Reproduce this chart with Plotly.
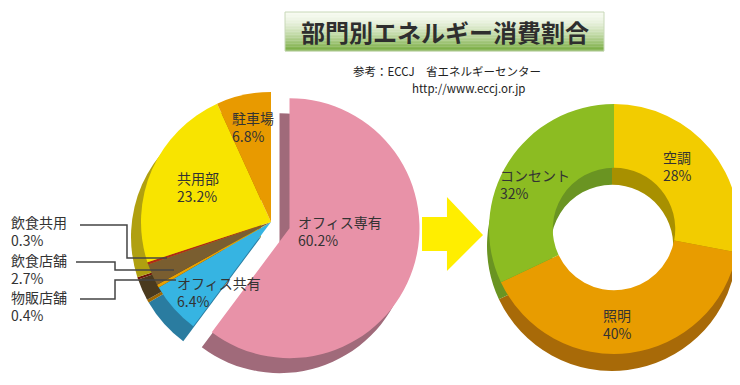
import plotly.graph_objects as go

# ---------------- data ----------------
left_labels = ["オフィス専有", "オフィス共有", "物販店舗", "飲食店舗", "飲食共用", "共用部", "駐車場"]
left_values = [60.2, 6.4, 0.4, 2.7, 0.3, 23.2, 6.8]
right_labels = ["空調", "照明", "コンセント"]
right_values = [28, 40, 32]

title_text = "部門別エネルギー消費割合"
source_line1 = "参考：ECCJ　省エネルギーセンター"
source_line2 = "http://www.eccj.or.jp"

# ---------------- styles ----------------
W, H = 740, 385
FONT = "Noto Sans CJK JP"
TXT = "#333333"

left_face = ["#E892A8", "#36B4E2", "#E8A000", "#7A5E30", "#B02818", "#F8E400", "#E89A00"]
left_side = ["#A06A7A", "#2A7CA0", "#A06800", "#4A3A1E", "#701808", "#B0A010", "#A86C00"]
left_pull = [0.15, 0, 0, 0, 0, 0, 0]
right_face = ["#F2CC00", "#E89C00", "#8CBC22"]
right_side = ["#A89000", "#A86A08", "#6A9422"]


def px(x):
    return x / W


def py(y):
    return 1 - y / H


def dom(cx, cy, half):
    return dict(x=[px(cx - half), px(cx + half)], y=[py(cy + half), py(cy - half)])


fig = go.Figure()

# left pie: shadow (depth) then face
L_CX, L_CY, L_R = 263, 214, 130
L_HALF = L_R * 1.15
fig.add_trace(go.Pie(labels=left_labels, values=left_values, sort=False, direction="clockwise",
                     rotation=0, pull=left_pull, hole=0, textinfo="none", hoverinfo="skip",
                     marker=dict(colors=left_side, line=dict(width=0)),
                     domain=dom(L_CX - 10, L_CY + 15, L_HALF), showlegend=False))
fig.add_trace(go.Pie(labels=left_labels, values=left_values, sort=False, direction="clockwise",
                     rotation=0, pull=left_pull, hole=0, textinfo="none", hoverinfo="skip",
                     marker=dict(colors=left_face, line=dict(width=0)),
                     domain=dom(L_CX, L_CY, L_HALF), showlegend=False))

# right donut: shadow then face
R_CX, R_CY, R_R = 606, 221, 125
fig.add_trace(go.Pie(labels=right_labels, values=right_values, sort=False, direction="clockwise",
                     rotation=0, hole=0.49, textinfo="none", hoverinfo="skip",
                     marker=dict(colors=right_side, line=dict(width=0)),
                     domain=dom(R_CX - 2, R_CY + 17, R_R), showlegend=False))
fig.add_trace(go.Pie(labels=right_labels, values=right_values, sort=False, direction="clockwise",
                     rotation=0, hole=0.49, textinfo="none", hoverinfo="skip",
                     marker=dict(colors=right_face, line=dict(width=0)),
                     domain=dom(R_CX, R_CY, R_R), showlegend=False))

shapes = []
# title box gradient (stripes)
bx0, bx1, by0, by1 = 277, 596, 4, 43
n = 26
top_c = (246, 250, 240)
bot_c = (120, 172, 64)
for i in range(n):
    t = i / (n - 1)
    t2 = t ** 1.6
    c = tuple(int(top_c[k] + (bot_c[k] - top_c[k]) * t2) for k in range(3))
    y0 = by0 + (by1 - by0) * i / n
    y1 = by0 + (by1 - by0) * (i + 1) / n
    shapes.append(dict(type="rect", xref="paper", yref="paper", x0=px(bx0), x1=px(bx1),
                       y0=py(y1 + 0.3), y1=py(y0), line=dict(width=0),
                       fillcolor="rgb(%d,%d,%d)" % c, layer="below"))
shapes.append(dict(type="rect", xref="paper", yref="paper", x0=px(bx0), x1=px(bx1),
                   y0=py(by1), y1=py(by0), line=dict(width=1, color="#C8D8B8")))

# arrow
arrow = [(414, 209), (439, 209), (439, 189), (475, 227), (439, 263), (439, 243), (414, 243)]
path = "M " + " L ".join("%.4f,%.4f" % (px(x), py(y)) for x, y in arrow) + " Z"
shapes.append(dict(type="path", xref="paper", yref="paper", path=path,
                   fillcolor="#FFEE00", line=dict(width=0)))

# leader lines for small slices
leaders = {
    "飲食共用": [(72, 217), (119, 217), (119, 250), (159, 250)],
    "飲食店舗": [(68, 254), (107, 254), (107, 262), (166, 262)],
    "物販店舗": [(72, 291), (107, 291), (107, 272), (168, 272)],
}
for pts in leaders.values():
    p = "M " + " L ".join("%.4f,%.4f" % (px(x), py(y)) for x, y in pts)
    shapes.append(dict(type="path", xref="paper", yref="paper", path=p,
                       line=dict(width=1.5, color="#444444")))

annotations = []


def label(x, yc, name, value, size=14):
    annotations.append(dict(x=px(x), y=py(yc), xref="paper", yref="paper",
                            text=name + "<br>" + value, align="left",
                            showarrow=False, xanchor="left", yanchor="middle", borderpad=0,
                            font=dict(family=FONT, size=size, color=TXT)))


left_pos = {
    "オフィス専有": (289, 223),
    "オフィス共有": (168, 284),
    "物販店舗": (2, 298),
    "飲食店舗": (2, 261),
    "飲食共用": (2, 223),
    "共用部": (168, 179),
    "駐車場": (223, 119),
}
for name, v in zip(left_labels, left_values):
    x, yc = left_pos[name]
    label(x, yc, name, "%g%%" % v)

right_pos = {
    "空調": (654, 158),
    "照明": (594, 316),
    "コンセント": (491, 176),
}
for name, v in zip(right_labels, right_values):
    x, yc = right_pos[name]
    label(x, yc, name, "%g%%" % v)

# title & source
annotations.append(dict(x=px(437), y=py(23), xref="paper", yref="paper",
                        text="<b>" + title_text + "</b>", showarrow=False,
                        xanchor="center", yanchor="middle",
                        font=dict(family=FONT, size=24, color="#2E2E2E")))
annotations.append(dict(x=px(343), y=py(63), xref="paper", yref="paper", text=source_line1,
                        showarrow=False, xanchor="left", yanchor="middle",
                        font=dict(family=FONT, size=11.5, color="#222222")))
annotations.append(dict(x=px(402), y=py(80), xref="paper", yref="paper", text=source_line2,
                        showarrow=False, xanchor="left", yanchor="middle",
                        font=dict(family=FONT, size=11.5, color="#222222")))

fig.update_layout(width=W, height=H, margin=dict(l=0, r=0, t=0, b=0),
                  paper_bgcolor="white", plot_bgcolor="white",
                  shapes=shapes, annotations=annotations, showlegend=False)

fig.write_html("out.html")
